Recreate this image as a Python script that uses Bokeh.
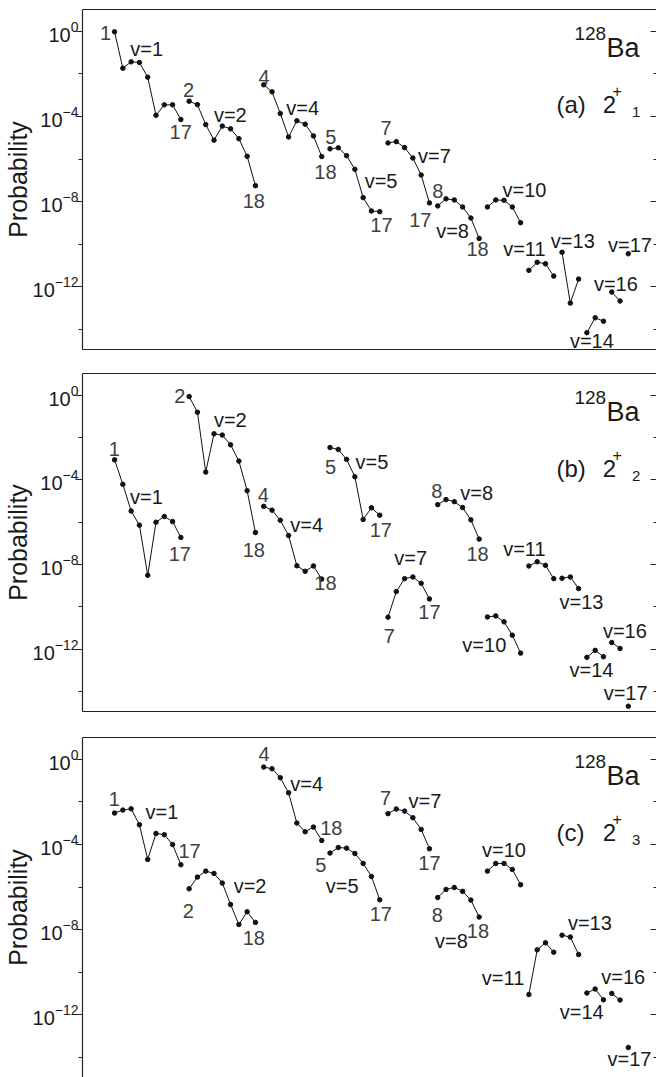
from bokeh.plotting import figure
from bokeh.layouts import column
from bokeh.models import (Range1d, LogAxis, LinearAxis, FixedTicker, ColumnDataSource,
                          CustomJSTickFormatter)
from bokeh.core.properties import value
from bokeh.embed import file_html
from bokeh.resources import INLINE

FONT = "Liberation Sans"

# vibrational bands (v) and their J values: J = v, v+2, ... up to 17 (odd) / 18 (even)
v_levels = [1, 2, 4, 5, 7, 8, 10, 11, 13, 14, 16, 17]

# log10(Probability), per band, in J order
log10p_2p1 = {
    1: [-0.02, -1.73, -1.43, -1.46, -2.15, -3.94, -3.45, -3.45, -4.14],
    2: [-3.28, -3.44, -4.38, -5.11, -4.45, -4.58, -5.04, -5.87, -7.25],
    4: [-2.51, -2.84, -3.86, -4.96, -4.20, -4.36, -4.91, -5.88],
    5: [-5.52, -5.47, -5.84, -6.48, -7.81, -8.44, -8.47],
    7: [-5.24, -5.18, -5.46, -5.95, -6.75, -8.06],
    8: [-8.20, -7.87, -7.92, -8.25, -8.77, -9.73],
    10: [-8.25, -7.92, -7.94, -8.25, -8.99],
    11: [-11.23, -10.85, -10.92, -11.50],
    13: [-10.38, -12.77, -11.64],
    14: [-14.16, -13.46, -13.62],
    16: [-12.25, -12.67],
    17: [-10.45],
}
log10p_2p2 = {
    1: [-3.05, -4.21, -5.47, -6.14, -8.51, -6.00, -5.73, -5.97, -6.72],
    2: [-0.06, -0.80, -3.63, -1.82, -1.88, -2.34, -3.11, -4.51, -6.49],
    4: [-5.25, -5.43, -5.91, -6.63, -8.06, -8.32, -8.07, -8.69],
    5: [-2.47, -2.56, -3.03, -3.85, -5.87, -5.32, -5.67],
    7: [-10.49, -9.28, -8.67, -8.59, -8.89, -9.63],
    8: [-5.17, -4.93, -5.03, -5.31, -5.89, -6.80],
    10: [-10.48, -10.43, -10.71, -11.34, -12.19],
    11: [-8.07, -7.87, -8.04, -8.67],
    13: [-8.65, -8.59, -9.14],
    14: [-12.39, -12.06, -12.36],
    16: [-11.69, -11.97],
    17: [-14.70],
}
log10p_2p3 = {
    1: [-2.52, -2.38, -2.32, -3.07, -4.70, -3.48, -3.54, -4.00, -4.95],
    2: [-6.08, -5.53, -5.25, -5.36, -5.81, -6.82, -7.76, -7.16, -7.66],
    4: [-0.36, -0.44, -0.86, -1.57, -2.99, -3.40, -3.18, -3.81],
    5: [-4.40, -4.14, -4.17, -4.42, -4.89, -5.50, -6.60],
    7: [-2.55, -2.33, -2.43, -2.74, -3.29, -4.20],
    8: [-6.49, -6.11, -6.02, -6.20, -6.61, -7.41],
    10: [-5.25, -4.89, -4.89, -5.17, -5.89],
    11: [-11.05, -8.95, -8.62, -9.06],
    13: [-8.26, -8.35, -9.17],
    14: [-10.98, -10.79, -11.30],
    16: [-11.00, -11.31],
    17: [-13.54],
}

major_ticks = [1.0, 1e-4, 1e-8, 1e-12]
minor_ticks = [1e-2, 1e-6, 1e-10, 1e-14]

# annotation placement: (text, x position in state-index units, log10 y, style)
ann_a = [
    ("1", -1.09, -0.06, "n"), ("v=1", 3.87, -0.84, "v"), ("17", 7.98, -4.74, "n"),
    ("2", 8.92, -2.73, "n"), ("v=2", 13.97, -3.91, "v"), ("18", 16.8, -7.97, "n"),
    ("4", 18.05, -2.16, "n"), ("v=4", 22.7, -3.58, "v"), ("18", 25.45, -6.63, "n"),
    ("5", 26.1, -4.95, "n"), ("v=5", 32.16, -7.03, "v"), ("17", 32.2, -9.1, "n"),
    ("7", 32.77, -4.52, "n"), ("v=7", 38.6, -5.87, "v"), ("17", 36.9, -8.86, "n"),
    ("8", 39.0, -7.5, "n"), ("v=8", 40.79, -9.39, "v"), ("18", 43.8, -10.22, "n"),
    ("v=10", 49.46, -7.46, "v"), ("v=11", 49.46, -10.22, "v"), ("v=13", 55.3, -9.83, "v"),
    ("v=17", 62.2, -10.02, "v"), ("v=16", 60.5, -11.87, "v"), ("v=14", 57.6, -14.57, "v"),
]
ann_b = [
    ("1", -0.02, -2.56, "n"), ("v=1", 3.85, -4.8, "v"), ("17", 7.88, -7.51, "n"),
    ("2", 7.88, -0.04, "n"), ("v=2", 13.97, -1.19, "v"), ("18", 16.81, -7.32, "n"),
    ("4", 17.96, -4.72, "n"), ("v=4", 23.19, -6.13, "v"), ("18", 25.45, -8.89, "n"),
    ("5", 26.06, -3.40, "n"), ("v=5", 31.05, -3.15, "v"), ("17", 32.13, -6.35, "n"),
    ("v=7", 35.73, -7.70, "v"), ("7", 33.17, -11.39, "n"), ("17", 38.0, -10.26, "n"),
    ("8", 38.9, -4.52, "n"), ("v=8", 43.7, -4.64, "v"), ("18", 43.8, -7.51, "n"),
    ("v=11", 49.46, -7.27, "v"), ("v=13", 56.35, -9.78, "v"), ("v=10", 44.62, -11.82, "v"),
    ("v=16", 61.58, -11.14, "v"), ("v=14", 57.56, -13.0, "v"), ("v=17", 61.67, -14.07, "v"),
]
ann_c = [
    ("1", -0.02, -1.86, "n"), ("v=1", 5.71, -2.49, "v"), ("17", 9.05, -4.31, "n"),
    ("2", 8.89, -7.13, "n"), ("v=2", 16.35, -5.94, "v"), ("18", 16.81, -8.41, "n"),
    ("4", 18.05, 0.25, "n"), ("v=4", 23.19, -1.16, "v"), ("18", 26.16, -3.21, "n"),
    ("5", 24.9, -4.97, "n"), ("v=5", 27.47, -5.94, "v"), ("17", 32.13, -7.26, "n"),
    ("7", 32.71, -1.82, "n"), ("v=7", 37.45, -1.96, "v"), ("17", 38.0, -4.87, "n"),
    ("8", 38.96, -7.29, "n"), ("v=8", 40.65, -8.53, "v"), ("18", 43.85, -8.08, "n"),
    ("v=10", 47.0, -4.28, "v"), ("v=11", 46.88, -10.26, "v"), ("v=13", 57.36, -7.71, "v"),
    ("v=16", 61.39, -10.21, "v"), ("v=14", 56.38, -11.86, "v"), ("v=17", 62.14, -14.1, "v"),
]

# nucleus / state tags: (text, left x in state-index units, log10 of vertical centre, font size)
def tags_for(letter, sub):
    return [("128", 55.5, -0.12, "19px"), ("Ba", 59.37, -0.78, "27px"),
            ("(" + letter + ")", 53.33, -3.45, "24px"), ("2", 58.9, -3.45, "24px"),
            ("+", 60.1, -2.8, "16px"), (sub, 62.45, -3.8, "15px")]


tag_a = tags_for("a", "1")
tag_b = tags_for("b", "2")
tag_c = tags_for("c", "3")


def band_js(v):
    top = 17 if v % 2 else 18
    return list(range(v, top + 1, 2))


def blank_axis(ax):
    ax.ticker = FixedTicker(ticks=[])
    ax.formatter = CustomJSTickFormatter(code="return ''")
    ax.major_label_text_font_size = "1px"
    ax.major_tick_out = 0
    ax.major_tick_in = 0
    ax.minor_tick_out = 0
    ax.minor_tick_in = 0
    ax.major_label_standoff = 0
    ax.axis_line_color = "#222222"
    ax.axis_line_width = 1.2


def make_panel(vals, ann, tags, height, top, bottom, show_bottom):
    p = figure(width=656, height=height, y_axis_type="log",
               x_range=Range1d(-3.87, 65.4), y_range=Range1d(10 ** -14.95, 10 ** 1.03),
               output_backend="svg", toolbar_location=None,
               min_border_left=82, min_border_right=0,
               min_border_top=top, min_border_bottom=bottom)
    p.grid.visible = False
    p.outline_line_color = None
    p.background_fill_color = "white"

    xa = p.xaxis[0]
    if show_bottom:
        blank_axis(xa)
    else:
        xa.visible = False

    ta = LinearAxis()
    blank_axis(ta)
    p.add_layout(ta, "above")

    ya = p.yaxis[0]
    ya.ticker = FixedTicker(ticks=major_ticks, minor_ticks=minor_ticks)
    ya.axis_label = "Probability"
    ya.axis_label_text_font = FONT
    ya.axis_label_text_font_size = "25px"
    ya.axis_label_text_font_style = "normal"
    ya.axis_label_text_color = "#1a1a1a"
    ya.axis_label_standoff = -2
    ya.major_label_text_font = FONT
    ya.major_label_text_font_size = "20px"
    ya.major_label_text_color = "#1a1a1a"
    ya.major_label_standoff = -2
    ya.major_tick_out = 6
    ya.major_tick_in = 0
    ya.minor_tick_out = 4
    ya.minor_tick_in = 0
    ya.axis_line_color = "#222222"
    ya.axis_line_width = 1.2
    ya.major_tick_line_color = "#222222"
    ya.minor_tick_line_color = "#222222"

    ra = LogAxis(ticker=FixedTicker(ticks=major_ticks, minor_ticks=minor_ticks))
    ra.formatter = CustomJSTickFormatter(code="return ''")
    ra.major_label_text_font_size = "1px"
    ra.major_label_standoff = 0
    ra.major_tick_in = 6
    ra.major_tick_out = 0
    ra.minor_tick_in = 3
    ra.minor_tick_out = 0
    ra.axis_line_color = "#222222"
    ra.major_tick_line_color = "#222222"
    ra.minor_tick_line_color = "#222222"
    p.add_layout(ra, "right")

    pos = 0
    for v in v_levels:
        ys = [10 ** e for e in vals[v]]
        xs = list(range(pos, pos + len(ys)))
        pos += len(band_js(v))
        src = ColumnDataSource(dict(x=xs, y=ys))
        if len(xs) > 1:
            p.line("x", "y", source=src, line_color="#111111", line_width=1)
        p.scatter("x", "y", source=src, size=4.5, marker="circle",
                  fill_color="#111111", line_color="#111111")

    for style, color in (("v", "#1a1a1a"), ("n", "#404040")):
        rows = [a for a in ann if a[3] == style]
        src = ColumnDataSource(dict(x=[r[1] for r in rows], y=[10 ** r[2] for r in rows],
                                    t=[r[0] for r in rows]))
        p.text("x", "y", text="t", source=src, text_font=value(FONT),
               text_font_size="20px", text_color=color,
               text_align="center", text_baseline="middle")

    for t, x, e, fs in tags:
        p.text(x=[x], y=[10 ** e], text=[t], text_font=value(FONT), text_font_size=fs,
               text_color="#1a1a1a", text_align="left", text_baseline="middle")
    return p


pa = make_panel(log10p_2p1, ann_a, tag_a, 364, 9, 15, True)
pb = make_panel(log10p_2p2, ann_b, tag_b, 364, 9, 17, True)
pc = make_panel(log10p_2p3, ann_c, tag_c, 349, 9, 0, False)

layout = column(pa, pb, pc, spacing=0)
open("out.html", "w").write(file_html(layout, INLINE))
